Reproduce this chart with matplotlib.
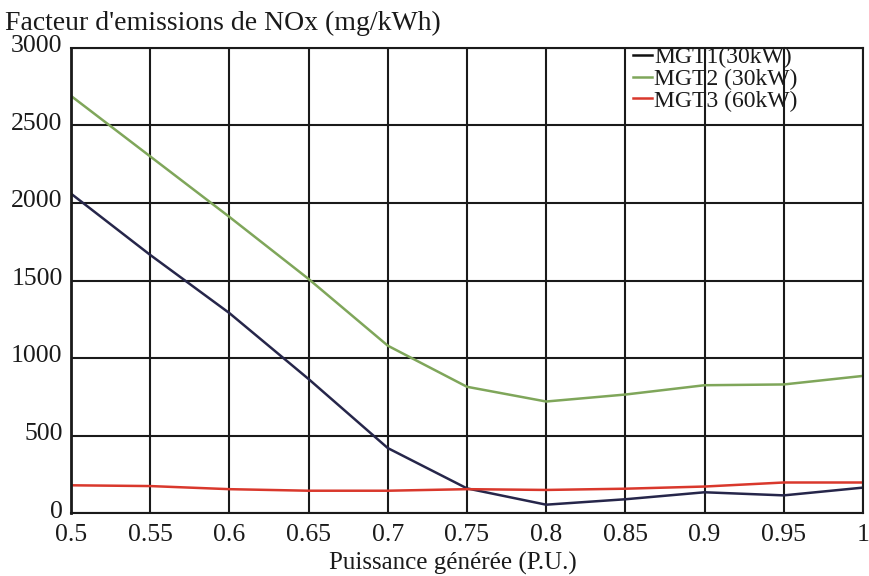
import matplotlib
matplotlib.use("Agg")
import matplotlib.pyplot as plt
import matplotlib.transforms as mtransforms

plt.rcParams['font.family'] = ['Liberation Serif', 'DejaVu Serif']

puissance = [0.5, 0.55, 0.6, 0.65, 0.7, 0.75, 0.8, 0.85, 0.9, 0.95, 1.0]
mgt1 = [2060, 1665, 1290, 865, 420, 160, 55, 90, 135, 115, 165]
mgt2 = [2690, 2300, 1910, 1510, 1080, 815, 720, 765, 825, 830, 885]
mgt3 = [180, 175, 155, 145, 145, 155, 150, 158, 172, 198, 198]

labels = ['MGT1(30kW)', 'MGT2 (30kW)', 'MGT3 (60kW)']
colors = ['#26264a', '#7fa65a', '#d9382c']
xtick_labels = ['0.5', '0.55', '0.6', '0.65', '0.7', '0.75', '0.8',
                '0.85', '0.9', '0.95', '1']

fig = plt.figure(figsize=(8.69, 5.76), dpi=100)
ax = fig.add_axes([0.0817, 0.109, 0.9113, 0.808])

for y, lab, c in zip([mgt1, mgt2, mgt3], labels, colors):
    ax.plot(puissance, y, color=c, lw=1.8, label=lab)

ax.set_xlim(0.5, 1.0)
ax.set_ylim(0, 3000)
ax.set_xticks(puissance)
ax.set_xticklabels(xtick_labels)
ax.set_yticks([0, 500, 1000, 1500, 2000, 2500, 3000])
ax.grid(True, color='#1a1a1a', lw=1.5)
ax.set_axisbelow(True)
ax.tick_params(labelsize=18.5, length=0, colors='#1a1a1a')
ax.tick_params(axis='x', pad=8)
ax.tick_params(axis='y', pad=6)
for s in ax.spines.values():
    s.set_color('#1a1a1a')
    s.set_linewidth(1.5)
ax.spines['left'].set_linewidth(2)

# y labels sit a touch above their grid lines in the reference
shift = mtransforms.ScaledTranslation(0, 3 / 72, fig.dpi_scale_trans)
for lbl in ax.get_yticklabels():
    lbl.set_transform(lbl.get_transform() + shift)

fig.text(453 / 869, 1 - 570 / 576, 'Puissance générée (P.U.)', fontsize=18,
         ha='center', va='baseline', color='#1a1a1a')
fig.text(5 / 869, 1 - 30 / 576, "Facteur d'emissions de NOx (mg/kWh)",
         fontsize=20, ha='left', va='baseline', color='#1a1a1a')

leg = ax.legend(loc='upper left', bbox_to_anchor=(633 / 869, 1 - 47 / 576),
                bbox_transform=fig.transFigure, frameon=False,
                fontsize=17, handlelength=0.8, handletextpad=0.1,
                labelspacing=0.0, borderpad=0, borderaxespad=0)
leg.get_lines()[0].set_color('#111111')
for t in leg.get_texts():
    t.set_color('#1a1a1a')

fig.savefig('out.png', dpi=100)
